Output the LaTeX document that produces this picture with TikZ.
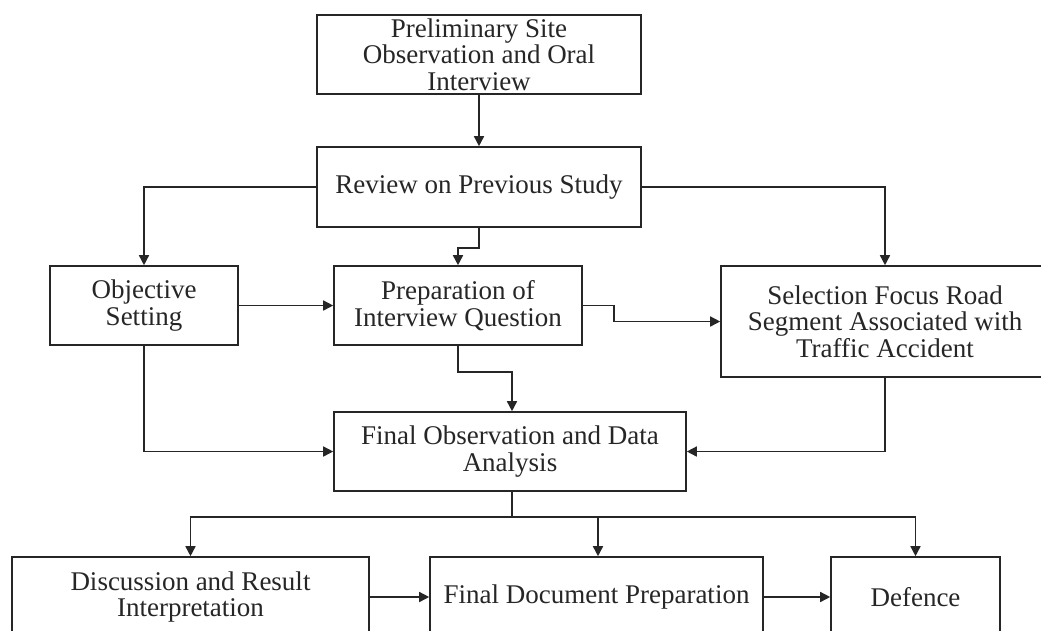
\documentclass[tikz,border=0pt]{standalone}
\usepackage{fontspec}
\setmainfont{Liberation Serif}
\usetikzlibrary{arrows.meta}
\begin{document}
\begin{tikzpicture}[x=1pt,y=-1pt,
  box/.style={draw=black!85, line width=1.6pt, fill=white, align=center, inner sep=0pt,
    font=\fontsize{27}{26.5}\selectfont, text=black!85},
  arr/.style={draw=black!85, line width=1.5pt, -{Triangle[length=10pt,width=10pt]}},
  ln/.style={draw=black!85, line width=1.5pt}]
\useasboundingbox (0,0) rectangle (1041,630);
\clip (0,0) rectangle (1041,630);
\fill[white] (0,0) rectangle (1041,630);

\node[box, minimum width=324pt, minimum height=79pt] (top) at (479,54.5)
  {Preliminary Site\\Observation and Oral\\Interview};
\node[box, minimum width=324pt, minimum height=80pt] (review) at (479,187)
  {Review on Previous Study};
\node[box, minimum width=188pt, minimum height=79pt] (obj) at (144,305.5)
  {Objective\\Setting};
\node[box, minimum width=248pt, minimum height=79pt] (prep) at (458,305.5)
  {Preparation of\\Interview Question};
\node[box, minimum width=328pt, minimum height=111pt] (sel) at (885,321.5)
  {Selection Focus Road\\Segment Associated with\\Traffic Accident};
\node[box, minimum width=352pt, minimum height=79pt] (final) at (510,451.5)
  {Final Observation and Data\\Analysis};
\node[box, minimum width=357pt, minimum height=80pt] (disc) at (190.5,597)
  {Discussion and Result\\Interpretation};
\node[box, minimum width=333pt, minimum height=80pt] (doc) at (596.5,597)
  {Final Document Preparation};
\node[box, minimum width=169pt, minimum height=80pt] (def) at (915.5,597)
  {Defence};

\draw[arr] (top) -- (review);
\draw[arr] (review.west) -| (obj.north);
\draw[arr] (review.east) -| (sel.north);
\draw[arr] (review.south) -- ++(0,20) -| (prep.north);
\draw[arr] (obj) -- (prep);
\draw[arr] (prep.east) -- ++(31,0) |- (sel.west);
\draw[arr] (obj.south) |- (final.west);
\draw[arr] (prep.south) -- ++(0,26) -| ([xshift=2pt]final.north);
\draw[arr] (sel.south) |- (final.east);
\draw[ln] ([xshift=2pt]final.south) -- ++(0,25) coordinate (split);
\draw[arr] (split) -| (disc.north);
\draw[arr] (split) -| ([xshift=1.5pt]doc.north);
\draw[arr] (split) -| (def.north);
\draw[arr] (disc) -- (doc);
\draw[arr] (doc) -- (def);
\end{tikzpicture}
\end{document}
